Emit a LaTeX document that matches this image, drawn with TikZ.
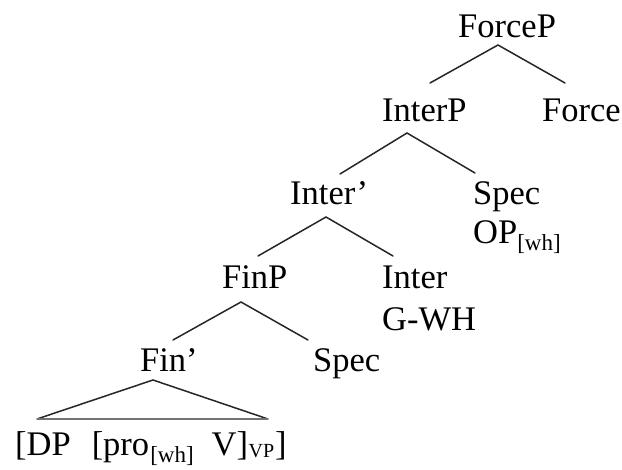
\documentclass[tikz,border=0pt]{standalone}
\usepackage{fontspec}
\setmainfont{Liberation Serif}
\usetikzlibrary{calc}
% label sizes
\newcommand\treefont{\fontsize{34.5}{40}\selectfont}
\newcommand\lsub[1]{\raisebox{-7pt}{\fontsize{23}{23}\selectfont #1}}
\newcommand\vpsub[1]{\raisebox{-1.5pt}{\fontsize{20}{20}\selectfont #1}}
\begin{document}
\begin{tikzpicture}[x=1pt,y=-1pt,
  lbl/.style={inner sep=0pt, text height=23pt, text depth=0pt, font=\treefont, anchor=base west},
  branch/.style={line width=1.5pt, draw=black!85, line cap=round},
  baseline/.style={line width=1.8pt, draw=black!55}]
\useasboundingbox (0,0) rectangle (622,470);

% labels
\node[lbl] (forceP)   at (458,38)  {ForceP};
\node[lbl] (interP)   at (382,122) {InterP};
\node[lbl] (force)    at (542,122) {Force};
\node[lbl] (interbar) at (290,205) {Inter’};
\node[lbl] (specA)    at (473,205) {Spec};
\node[lbl] (op)       at (473,244) {OP\lsub{[wh]}};
\node[lbl] (finP)     at (222,289) {FinP};
\node[lbl] (inter)    at (382,289) {Inter};
\node[lbl] (gwh)      at (382,331) {G-WH};
\node[lbl] (finbar)   at (140,372) {Fin’};
\node[lbl] (specB)    at (313,372) {Spec};
\node[lbl] (vp)       at (15,456)
  {[DP\hspace{21pt}[pro\hspace{1pt}\lsub{[wh]}\hspace{18pt}V]\hspace{0.5pt}\vpsub{VP}\hspace{1pt}]};

% branches
\draw[branch] ($(interP.base west)+(48,-39)$) -- ($(forceP.base west)+(40,7)$) -- ($(force.base west)+(23,-39)$);
\draw[branch] ($(interbar.base west)+(50,-31)$) -- ($(interP.base west)+(25,11)$) -- ($(specA.base west)+(2,-32)$);
\draw[branch] ($(finP.base west)+(36,-33)$) -- ($(interbar.base west)+(36,12)$) -- ($(inter.base west)+(11,-33)$);
\draw[branch] ($(finbar.base west)+(33,-32)$) -- ($(finP.base west)+(19,13)$) -- ($(specB.base west)+(-5,-32)$);

% triangle over the VP
\draw[branch] ($(vp.base west)+(22,-37)$) -- ($(finbar.base west)+(13,8)$) -- ($(vp.base west)+(253,-37)$);
\draw[baseline] ($(vp.base west)+(22,-37)$) -- ($(vp.base west)+(253,-37)$);
\end{tikzpicture}
\end{document}
